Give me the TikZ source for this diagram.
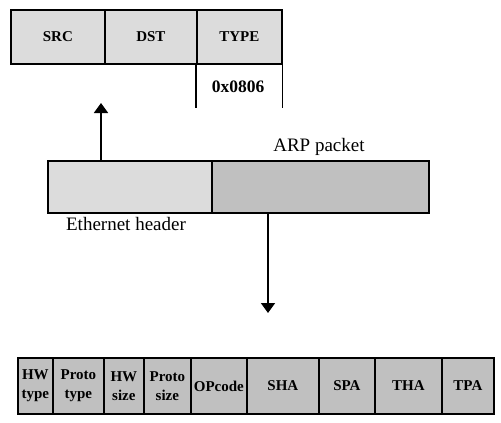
\documentclass[tikz,border=0pt]{standalone}
\usepackage{fontspec}
\setmainfont{Liberation Serif}
\usetikzlibrary{arrows.meta}
\definecolor{lightfield}{RGB}{220,220,220}
\definecolor{darkfield}{RGB}{192,192,192}
\tikzset{
  field/.style={draw, line width=1.8pt, inner sep=0pt, anchor=north west,
    align=center, font=\bfseries\fontsize{15}{19}\selectfont},
  ethfield/.style={field, fill=lightfield},
  arpfield/.style={field, fill=darkfield},
  caption/.style={font=\fontsize{19}{22}\selectfont},
  updown/.style={line width=1.8pt, -{Triangle[width=14pt,length=10pt]}}
}
\begin{document}
\begin{tikzpicture}[x=1pt,y=-1pt]
  \useasboundingbox (0,0) rectangle (501,423);
  % ethernet header fields
  \node[ethfield, minimum width=94pt, minimum height=54pt] (src) at (10,9) {SRC};
  \node[ethfield, minimum width=92pt, minimum height=54pt] (dst) at (104,9) {DST};
  \node[ethfield, minimum width=85pt, minimum height=54pt] (type) at (196,9) {TYPE};
  \draw[line width=1.2pt] (type.south west) -- ++(0,43);
  \draw[line width=1.2pt] (type.south east) -- ++(0,43);
  \node[font=\bfseries\fontsize{17.5}{20}\selectfont] (typeval) at (238,87) {0x0806};
  % frame
  \node[ethfield, minimum width=164pt, minimum height=52pt] (eth) at (47,160) {};
  \node[arpfield, minimum width=217pt, minimum height=52pt] (arp) at (211,160) {};
  \node[caption] (arplbl) at (319,147) {ARP packet};
  \node[caption] (ethlbl) at (126,224) {Ethernet header};
  % arrows
  \coordinate (up) at (101,103);
  \coordinate (down) at (268,313);
  \draw[updown] (eth.north -| up) -- (up);
  \draw[updown] (arp.south -| down) -- (down);
  % arp packet fields
  \node[arpfield, minimum width=35pt, minimum height=56pt] (hwtype) at (17,357) {HW\\type};
  \node[arpfield, minimum width=51pt, minimum height=56pt] (prtype) at (52,357) {Proto\\type};
  \node[arpfield, minimum width=40pt, minimum height=56pt] (hwsize) at (103,357) {HW\\size};
  \node[arpfield, minimum width=47pt, minimum height=56pt] (prsize) at (143,357) {Proto\\size};
  \node[arpfield, minimum width=56pt, minimum height=56pt] (opcode) at (190,357) {OPcode};
  \node[arpfield, minimum width=72pt, minimum height=56pt] (sha) at (246,357) {SHA};
  \node[arpfield, minimum width=56pt, minimum height=56pt] (spa) at (318,357) {SPA};
  \node[arpfield, minimum width=67pt, minimum height=56pt] (tha) at (374,357) {THA};
  \node[arpfield, minimum width=52pt, minimum height=56pt] (tpa) at (441,357) {TPA};
\end{tikzpicture}
\end{document}
